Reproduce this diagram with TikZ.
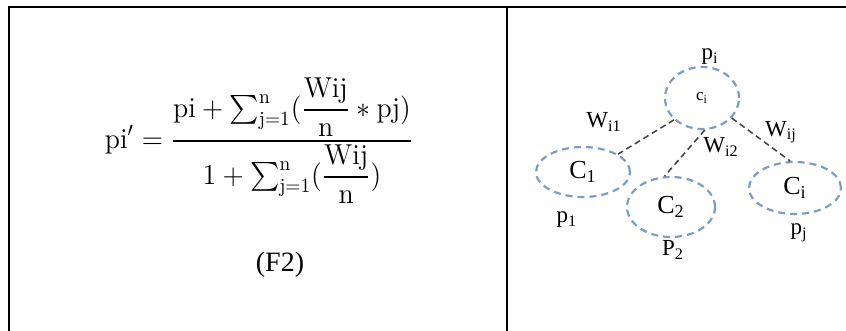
\documentclass[tikz,border=0pt]{standalone}
\usepackage{fontspec}
\usepackage{amsmath}
\newfontfamily\labelfont{Liberation Serif}
\usetikzlibrary{shapes.geometric, positioning}

\definecolor{ringblue}{HTML}{7B9CC8}
\definecolor{linkgray}{HTML}{404040}

\begin{document}
\begin{tikzpicture}[
            x=0.5pt, y=-0.5pt,
            cluster/.style={ellipse, draw=ringblue, line width=1.1pt,
            dash pattern=on 3.5pt off 2.5pt, inner sep=0pt,
            font=\labelfont\fontsize{13}{15}\selectfont},
            link/.style={draw=linkgray, line width=0.75pt,
            dash pattern=on 3pt off 2pt},
            lbl/.style={font=\labelfont\fontsize{11.5}{13}\selectfont, inner sep=1pt},
            frame/.style={line width=0.9pt}
        ]
\useasboundingbox (0,0) rectangle (846,331);

% ----- Tabelle -----
            \draw[frame] (9,331) -- (9,7) -- (846,7);
            \draw[frame] (507,7) -- (507,331);

% ----- Formel -----
            \node[font=\fontsize{14.4}{17}\selectfont] (eq) at (259,141)
                {\scalebox{0.97}[1]{$\displaystyle \mathrm{pi}' = \frac{\mathrm{pi} + {\textstyle\sum_{\mathrm{j}=1}^{\mathrm{n}}}(\dfrac{\mathrm{Wij}}{\mathrm{n}} \ast \mathrm{pj})}{1 + {\textstyle\sum_{\mathrm{j}=1}^{\mathrm{n}}}(\dfrac{\mathrm{Wij}}{\mathrm{n}})}$}};
            \node[font=\labelfont\fontsize{14}{16}\selectfont] (tag) at (280,265) {(F2)};

% ----- Knoten -----
            \node[cluster, minimum width=37pt, minimum height=31pt] (ci) at (702,98)
                {\fontsize{8.5}{9}\selectfont c\textsubscript{i}};
            \node[cluster, minimum width=47pt, minimum height=25pt] (c1) at (583,172) {C\textsubscript{1}};
            \node[cluster, minimum width=44pt, minimum height=30pt] (c2) at (671,207) {C\textsubscript{2}};
            \node[cluster, minimum width=46pt, minimum height=26pt] (cj) at (795,188) {C\textsubscript{i}};

% ----- Kanten -----
            \draw[link] (ci.218) -- (c1.27);
            \draw[link] (ci.275) -- (c2.102);
            \draw[link] (ci.-34) -- (cj.100);

% Beschriftungen
            \node[lbl] (pi) at (710,57) {p\textsubscript{i}};
            \node[lbl] (p1) at (567,220) {p\textsubscript{1}};
            \node[lbl] (p2) at (673,250) {P\textsubscript{2}};
            \node[lbl] (pj) at (799,233) {p\textsubscript{j}};
            \node[lbl] (w1) at (604,122) {W\textsubscript{i1}};
            \node[lbl] (w2) at (721,147) {W\textsubscript{i2}};
            \node[lbl] (wj) at (781,132) {W\textsubscript{ij}};

        \end{tikzpicture}
\end{document}
